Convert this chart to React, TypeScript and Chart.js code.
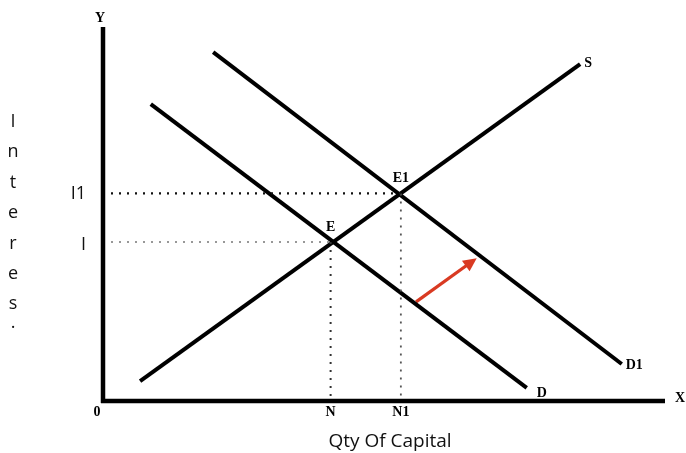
import React, { useEffect, useRef } from "react";
import { Chart, registerables } from "chart.js";

Chart.register(...registerables);

// Tick values (data units) and labels
const xTickValues = [0, 40.5, 53];
const xTickLabels = ["0", "N", "N1"];
const yTickValues = [42.5, 55.5];
const yTickLabels = ["I", "I1"];

// Curves
const supplyX = [6.6, 84.9];
const supplyY = [5.3, 90.1];
const demandX = [8.5, 75.4];
const demandY = [79.4, 3.5];
const demand1X = [19.6, 92.3];
const demand1Y = [93.3, 9.9];

// Equilibria
const eqNames = ["E", "E1"];
const eqX = [40.5, 53];
const eqY = [42.5, 55.5];

// Shift arrow
const arrowX = [55.7, 66.5];
const arrowY = [26.5, 38.2];

const yTitle = ["I", "n", "t", "e", "r", "e", "s", "."];
const xTitle = "Qty Of Capital";

const pts = (xs: number[], ys: number[]) => xs.map((x, i) => ({ x, y: ys[i] }));

export default function App() {
  const ref = useRef<HTMLCanvasElement | null>(null);
  useEffect(() => {
    const canvas = ref.current!;
    const serif = "bold 14px 'Liberation Serif', 'DejaVu Serif', serif";
    const sans = "18px 'Open Sans', 'Noto Sans', sans-serif";

    const overlay = {
      id: "overlay",
      afterDatasetsDraw(chart: any) {
        const ctx = chart.ctx as CanvasRenderingContext2D;
        const xs = chart.scales.x;
        const ys = chart.scales.y;
        const area = chart.chartArea;
        const px = (v: number) => xs.getPixelForValue(v);
        const py = (v: number) => ys.getPixelForValue(v);
        ctx.save();
        // axes
        ctx.strokeStyle = "#000";
        ctx.lineWidth = 4.5;
        ctx.lineCap = "butt";
        ctx.beginPath();
        ctx.moveTo(px(0), area.top);
        ctx.lineTo(px(0), py(0) + 2);
        ctx.moveTo(px(0) - 2, py(0));
        ctx.lineTo(area.right, py(0));
        ctx.stroke();

        // arrow head
        const x1 = px(arrowX[0]), y1 = py(arrowY[0]);
        const x2 = px(arrowX[1]), y2 = py(arrowY[1]);
        const ang = Math.atan2(y2 - y1, x2 - x1);
        const hl = 15, hw = 0.45;
        ctx.fillStyle = "#d93a22";
        ctx.beginPath();
        ctx.moveTo(x2, y2);
        ctx.lineTo(x2 - hl * Math.cos(ang - hw), y2 - hl * Math.sin(ang - hw));
        ctx.lineTo(x2 - hl * Math.cos(ang + hw), y2 - hl * Math.sin(ang + hw));
        ctx.closePath();
        ctx.fill();

        // serif labels
        ctx.fillStyle = "#000";
        ctx.font = serif;
        ctx.textAlign = "center";
        ctx.textBaseline = "alphabetic";
        ctx.fillText("Y", px(0) - 3, area.top - 5);
        ctx.fillText("X", area.right + 15, py(0) + 1);
        xTickValues.forEach((v, i) => {
          ctx.fillText(xTickLabels[i], px(v) + (i === 0 ? -6 : 0), py(0) + 15);
        });
        eqNames.forEach((n, i) => {
          ctx.fillText(n, px(eqX[i]), py(eqY[i]) - 11);
        });
        ctx.textAlign = "left";
        ctx.fillText("S", px(supplyX[1]) + 4, py(supplyY[1]) + 3);
        ctx.fillText("D", px(demandX[1]) + 10, py(demandY[1]) + 9);
        ctx.fillText("D1", px(demand1X[1]) + 4, py(demand1Y[1]) + 5);

        // sans labels
        ctx.font = sans;
        ctx.fillStyle = "#111";
        ctx.textAlign = "right";
        yTickValues.forEach((v, i) => {
          ctx.fillText(yTickLabels[i], px(0) - 17, py(v) + (i === 0 ? 8 : 6));
        });
        ctx.textAlign = "center";
        yTitle.forEach((c, i) => {
          ctx.fillText(c, 13, 127 + i * 30.4 - (i === 7 ? 12 : 0));
        });
        ctx.font = "19px 'Open Sans', 'Noto Sans', sans-serif";
        ctx.fillText(xTitle, 390, 447);
        ctx.restore();
      },
    };

    const solid = (data: any, color = "#000", width = 4) => ({
      data,
      showLine: true,
      borderColor: color,
      borderWidth: width,
      pointRadius: 0,
      fill: false,
    });
    const dotted = (data: any, color: string, width: number) => ({
      data,
      showLine: true,
      borderColor: color,
      borderWidth: width,
      borderDash: [2, 6],
      pointRadius: 0,
      fill: false,
    });

    const chart = new Chart(canvas, {
      type: "scatter",
      data: {
        datasets: [
          dotted([{ x: 0, y: eqY[1] }, { x: eqX[1], y: eqY[1] }], "#111", 2.2),
          dotted([{ x: eqX[1], y: eqY[1] }, { x: eqX[1], y: 0 }], "#555", 1.8),
          dotted([{ x: 0, y: eqY[0] }, { x: eqX[0], y: eqY[0] }], "#777", 1.6),
          dotted([{ x: eqX[0], y: eqY[0] }, { x: eqX[0], y: 0 }], "#333", 2),
          solid(pts(supplyX, supplyY)),
          solid(pts(demandX, demandY)),
          solid(pts(demand1X, demand1Y)),
          solid(pts(arrowX.map((v, i) => (i === 1 ? v - 1.2 : v)), arrowY.map((v, i) => (i === 1 ? v - 1.3 : v))), "#d93a22", 3.2),
        ] as any,
      },
      options: {
        responsive: false,
        maintainAspectRatio: false,
        animation: false,
        layout: { padding: { left: 103, right: 21, top: 27, bottom: 52 } },
        plugins: { legend: { display: false }, tooltip: { enabled: false } },
        scales: {
          x: { type: "linear", min: 0, max: 100, display: false },
          y: { type: "linear", min: 0, max: 100, display: false },
        },
      },
      plugins: [overlay],
    });
    return () => chart.destroy();
  }, []);

  return (
    <div style={{ position: "fixed", left: 0, top: 0, width: 686, height: 453, background: "#fff" }}>
      <canvas ref={ref} width={686} height={453} style={{ width: 686, height: 453 }} />
    </div>
  );
}
